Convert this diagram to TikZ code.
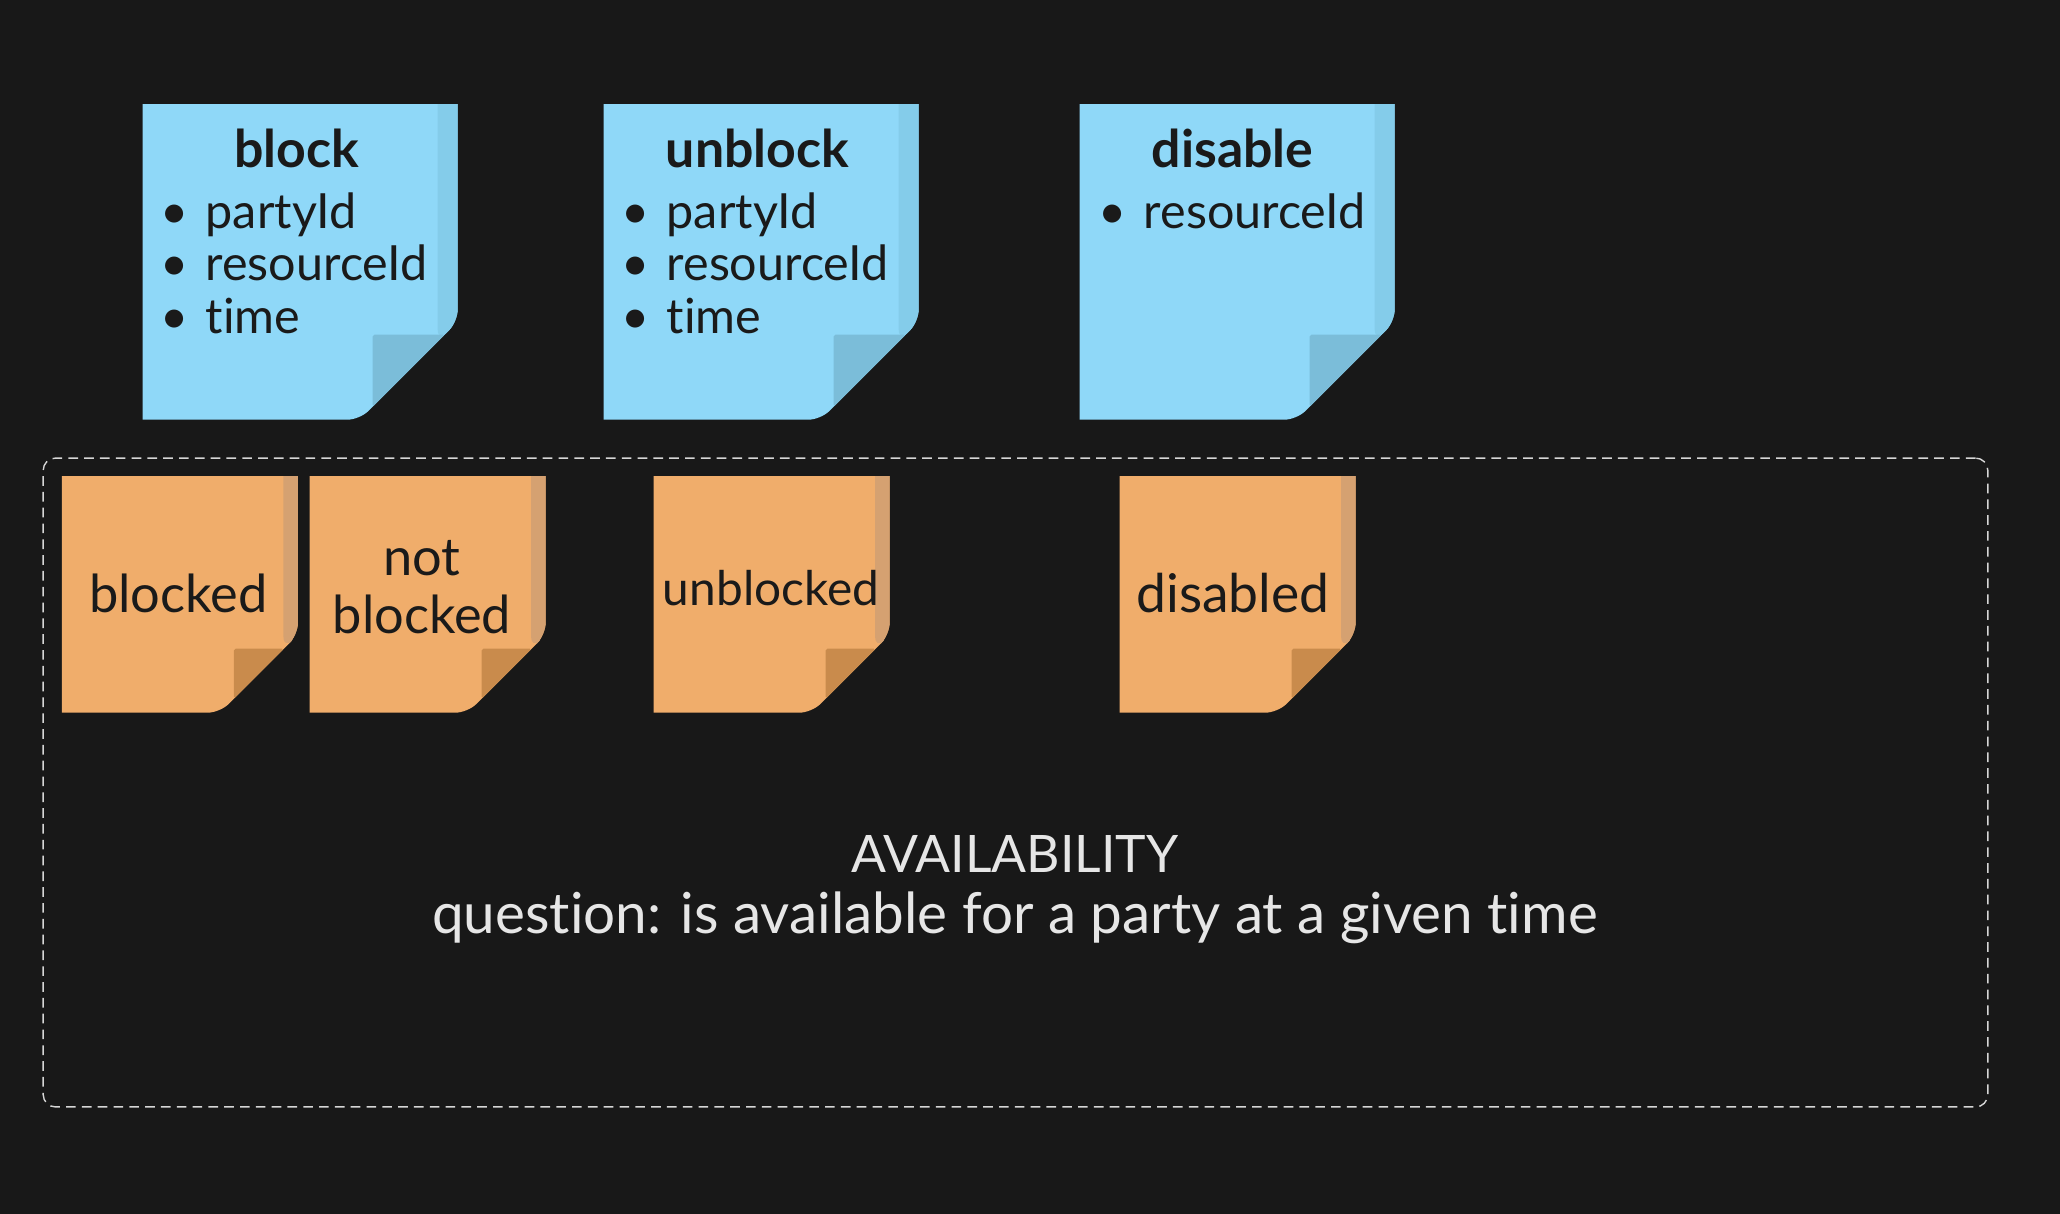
\documentclass[tikz,border=0pt]{standalone}
\usepackage{fontspec}
\setmainfont{Lato}[Ligatures=NoCommon]
\usetikzlibrary{calc}

\definecolor{bgdark}{HTML}{181818}
\definecolor{noteblue}{HTML}{8FD8F8}
\definecolor{stripblue}{HTML}{84CCEA}
\definecolor{foldblue}{HTML}{7BBDD9}
\definecolor{noteorange}{HTML}{F0AD6B}
\definecolor{striporange}{HTML}{D5A171}
\definecolor{foldorange}{HTML}{C98B4C}
\definecolor{inkdark}{HTML}{1A1A1A}
\definecolor{inklight}{HTML}{E6E6E6}
\definecolor{dashgrey}{HTML}{D6D6D6}

% node W H cut fold strip main stripcolour foldcolour
\newcommand{\stickyshape}[9]{%
  \begin{scope}[shift={(#1.north west)}]
    \clip (0,0) rectangle (#2,#3);
    \fill[#7, rounded corners=7pt] (-20,-20) -- (#2,-20) -- (#2,{#3-#4}) -- ({#2-#4},#3) -- (-20,#3) -- cycle;
    \fill[#8, rounded corners=7pt] ({#2-#6},-20) -- (#2,-20) -- (#2,{#3-#4}) -- ({#2-#6},{#3-#4+#6}) -- cycle;
    \fill[#9, rounded corners=1pt] ({#2-#5},{#3-#5}) -- ({#2-#4+#5},{#3-#5}) -- ({#2-#5},{#3-#4+#5}) -- cycle;
  \end{scope}}
\newcommand{\bluesticky}[1]{\stickyshape{#1}{315}{315}{98}{85}{20}{noteblue}{stripblue}{foldblue}}
\newcommand{\orangesticky}[1]{\stickyshape{#1}{236}{236}{78}{64}{14.5}{noteorange}{striporange}{foldorange}}
\newcommand{\dotitem}{\makebox[26pt][l]{•}}

\tikzset{
  bluenote/.style={minimum width=6.3cm, minimum height=6.3cm, inner sep=0pt},
  orangenote/.style={minimum width=4.72cm, minimum height=4.72cm, inner sep=0pt},
  notetext/.style={text=inkdark, font=\fontsize{29.8}{33}\selectfont, inner sep=0pt, text depth=0.2em},
  cardtitle/.style={anchor=base, text=inkdark, font=\fontsize{29.5}{33}\selectfont\bfseries, inner sep=0pt},
  item/.style={anchor=base west, text=inkdark, font=\fontsize{27.6}{30}\selectfont, inner sep=0pt},
  availbox/.style={draw=dashgrey, line width=0.8pt, dash pattern=on 5.5pt off 3.5pt, rounded corners=7pt,
    minimum width=38.9cm, minimum height=12.98cm, inner sep=0pt},
  availtext/.style={anchor=base, text=inklight, font=\fontsize{29.4}{33}\selectfont, inner sep=0pt}
}

\begin{document}
\begin{tikzpicture}[x=0.02cm, y=-0.02cm]
  \fill[bgdark] (0,0) rectangle (2060,1214);
  \useasboundingbox (0,0) rectangle (2060,1214);

  % commands
  \node[bluenote] (BL) at (300.5,262.5) {};
  \node[bluenote] (UB) at (761.5,262.5) {};
  \node[bluenote] (DS) at (1237.5,262.5) {};
  \bluesticky{BL}
  \bluesticky{UB}
  \bluesticky{DS}

  \node[cardtitle] (BLt) at ($(BL.north)+(-4,63)$) {block};
  \node[cardtitle] (UBt) at ($(UB.north)+(-4,63)$) {unblock};
  \node[cardtitle] (DSt) at ($(DS.north)+(-5,63)$) {disable};

  \node[item] (BL1) at ($(BL.north west)+(17,124)$) {\dotitem partyId};
  \node[item] (BL2) at ($(BL.north west)+(17,176)$) {\dotitem resourceId};
  \node[item] (BL3) at ($(BL.north west)+(17,229)$) {\dotitem time};
  \node[item] (UB1) at ($(UB.north west)+(17,124)$) {\dotitem partyId};
  \node[item] (UB2) at ($(UB.north west)+(17,176)$) {\dotitem resourceId};
  \node[item] (UB3) at ($(UB.north west)+(17,229)$) {\dotitem time};
  \node[item] (DS1) at ($(DS.north west)+(18,124)$) {\dotitem resourceId};

  % availability
  \node[availbox] (AV) at (1015.5,782.5) {};

  \node[orangenote] (BD) at (180.3,595) {};
  \node[orangenote] (NB) at (428,595) {};
  \node[orangenote] (UD) at (772,595) {};
  \node[orangenote] (DD) at (1238,595) {};
  \orangesticky{BD}
  \orangesticky{NB}
  \orangesticky{UD}
  \orangesticky{DD}

  \node[notetext] (BDt) at ($(BD)+(-2,0)$) {blocked};
  \node[notetext, align=center] (NBt) at ($(NB)+(-6,-6)$) {not\\blocked};
  \node[notetext, font=\fontsize{27.2}{30}\selectfont] (UDt) at ($(UD)+(-1,-5)$) {unblocked};
  \node[notetext, font=\fontsize{30.4}{33}\selectfont] (DDt) at ($(DD)+(-5,0)$) {disabled};

  \node[availtext] (AVt) at (1015,872) {AVAILABILITY};
  \node[availtext, font=\fontsize{32.2}{36}\selectfont] (AVq) at (1015,933) {question: is available for a party at a given time};
\end{tikzpicture}
\end{document}
